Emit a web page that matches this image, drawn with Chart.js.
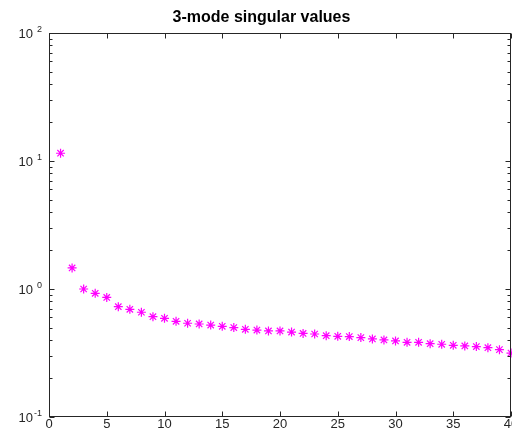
<!DOCTYPE html>
<html>
<head>
<meta charset="utf-8">
<script src="https://cdn.jsdelivr.net/npm/chart.js@4"></script>
<style>
    body { margin: 0; background: #fff; }
    canvas { display: block; }
</style>
</head>
<body>
<canvas id="svChart" width="512" height="443"></canvas>
<script>
// mode index 1..40
const modeIndex = [1, 2, 3, 4, 5, 6, 7, 8, 9, 10, 11, 12, 13, 14, 15, 16, 17, 18, 19, 20,
    21, 22, 23, 24, 25, 26, 27, 28, 29, 30, 31, 32, 33, 34, 35, 36, 37, 38, 39, 40];
// singular values
const singularValues = [11.5, 1.46, 1.00, 0.925, 0.86, 0.727, 0.694, 0.658, 0.608, 0.59,
    0.559, 0.54, 0.533, 0.523, 0.511, 0.50, 0.484, 0.478, 0.47, 0.47,
    0.461, 0.45, 0.445, 0.432, 0.427, 0.425, 0.417, 0.407, 0.40, 0.393,
    0.383, 0.383, 0.374, 0.37, 0.363, 0.359, 0.355, 0.348, 0.336, 0.316];
const xTickValues = [0, 5, 10, 15, 20, 25, 30, 35, 40];
const yTickValues = [0.1, 1, 10, 100];
const yTickExponents = ['-1', '0', '1', '2'];

const axisColor = '#262626';
const fontFamily = '"Liberation Sans", Arial, sans-serif';

// 目盛り（内向き）とラベルを描く
const axesPlugin = {
    id: 'octaveAxes',
    afterDraw(chart) {
        const ctx = chart.ctx;
        const area = chart.chartArea;
        const xs = chart.scales.x;
        const ys = chart.scales.y;
        const left = Math.round(area.left) + 0.5;
        const right = Math.round(area.right) - 0.5;
        const top = Math.round(area.top) + 0.5;
        const bottom = Math.round(area.bottom) - 0.5;

        ctx.save();
        ctx.strokeStyle = axisColor;
        ctx.lineWidth = 1;
        ctx.strokeRect(left, top, right - left, bottom - top);

        ctx.beginPath();
        xTickValues.forEach(v => {
            const px = Math.round(xs.getPixelForValue(v)) + 0.5;
            ctx.moveTo(px, bottom); ctx.lineTo(px, bottom - 5);
            ctx.moveTo(px, top); ctx.lineTo(px, top + 5);
        });
        yTickValues.forEach((v, i) => {
            const py = Math.round(ys.getPixelForValue(v)) + 0.5;
            ctx.moveTo(left, py); ctx.lineTo(left + 5, py);
            ctx.moveTo(right, py); ctx.lineTo(right - 5, py);
            if (i < yTickValues.length - 1) {
                for (let k = 2; k <= 9; k++) {
                    const my = Math.round(ys.getPixelForValue(v * k)) + 0.5;
                    ctx.moveTo(left, my); ctx.lineTo(left + 3, my);
                    ctx.moveTo(right, my); ctx.lineTo(right - 3, my);
                }
            }
        });
        ctx.stroke();

        ctx.fillStyle = axisColor;
        ctx.font = '13px ' + fontFamily;
        ctx.textAlign = 'center';
        ctx.textBaseline = 'alphabetic';
        xTickValues.forEach(v => {
            ctx.fillText(String(v), xs.getPixelForValue(v), 428);
        });

        yTickValues.forEach((v, i) => {
            const py = ys.getPixelForValue(v);
            ctx.textAlign = 'right';
            ctx.font = '13px ' + fontFamily;
            ctx.fillText('10', 33, py + 5);
            ctx.font = '9px ' + fontFamily;
            ctx.fillText(yTickExponents[i], 42, py - 1);
        });
        ctx.restore();
    }
};

const ctx = document.getElementById('svChart').getContext('2d');
const svChart = new Chart(ctx, {
    type: 'scatter',
    data: {
        datasets: [{
            label: 'singular values',
            data: modeIndex.map((m, i) => ({ x: m, y: singularValues[i] })),
            pointStyle: 'star',
            radius: 4.5,
            borderWidth: 1.2,
            borderColor: '#ff00ff',
            backgroundColor: '#ff00ff',
            clip: false
        }]
    },
    options: {
        responsive: false,
        animation: false,
        layout: {
            autoPadding: false,
            padding: { left: 12, right: 1, top: 0, bottom: 0 }
        },
        scales: {
            x: {
                type: 'linear',
                min: 0,
                max: 40,
                grid: { display: false },
                border: { display: false },
                ticks: { display: false },
                afterFit: function(scale) { scale.height = 26; }
            },
            y: {
                type: 'logarithmic',
                min: 0.1,
                max: 100,
                grid: { display: false },
                border: { display: false },
                ticks: { display: false },
                afterFit: function(scale) { scale.width = 37; }
            }
        },
        plugins: {
            legend: { display: false },
            tooltip: { enabled: false },
            title: {
                display: true,
                text: '3-mode singular values',
                color: '#000',
                font: { family: fontFamily, size: 16, weight: 'bold' },
                padding: { top: 8, bottom: 5.8 }
            }
        }
    },
    plugins: [axesPlugin]
});
</script>
</body>
</html>
